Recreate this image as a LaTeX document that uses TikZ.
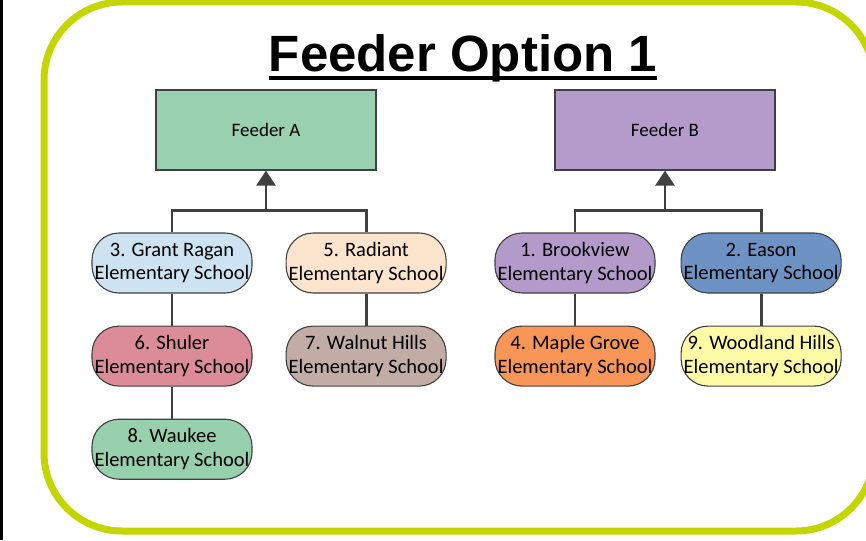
\documentclass[tikz,border=0pt]{standalone}
\usepackage{fontspec}
\setmainfont{Carlito}
\newfontfamily\titlefont{Liberation Sans}
\usepackage{tikz}
\usetikzlibrary{positioning, arrows.meta}

\definecolor{framelime}{RGB}{196,214,0}
\definecolor{edgegray}{RGB}{64,64,64}
\definecolor{feedA}{RGB}{152,208,176}
\definecolor{feedB}{RGB}{181,155,203}
\definecolor{grant}{RGB}{205,227,241}
\definecolor{radiant}{RGB}{253,228,205}
\definecolor{shuler}{RGB}{219,140,152}
\definecolor{walnut}{RGB}{193,173,165}
\definecolor{waukee}{RGB}{150,208,172}
\definecolor{brook}{RGB}{180,154,203}
\definecolor{eason}{RGB}{108,147,196}
\definecolor{maple}{RGB}{247,150,86}
\definecolor{woodland}{RGB}{254,251,166}

\begin{document}
\begin{tikzpicture}[x=1pt, y=1pt, feeder/.style={rectangle, draw=edgegray, line width=1.2pt, minimum width=220pt, minimum height=80pt, font=\fontsize{19}{23}\selectfont}, school/.style={rectangle, draw=edgegray, line width=1.1pt, minimum width=160pt, minimum height=60pt, inner sep=2pt, rounded corners=27pt, align=center, font=\fontsize{20.5}{23.5}\selectfont}, link/.style={draw=edgegray, line width=2.8pt}, uplink/.style={link, -{Triangle[width=19pt, length=15pt]}}]

    \useasboundingbox (0,0) rectangle (866,-540);

    % Frame
    \draw[black, line width=3pt] (1.5,0) -- (1.5,-540);
    \draw[framelime, line width=7pt, rounded corners=78pt] (44,-2) rectangle (874,-531);

    % Nodes
    \node[anchor=base, inner sep=0pt] (title) at (463,-72) {\titlefont\bfseries\fontsize{51}{56}\selectfont Feeder Option 1};

    \node[feeder, fill=feedA] (feederA) at (266,-130)            {Feeder A};
    \node[feeder, fill=feedB] (feederB) at (665,-130)            {Feeder B};

    \node[school, fill=grant]    (grantragan)   at (172,-263)            {3. Grant Ragan\\Elementary School};
    \node[school, fill=radiant]  (radiant)      [right=33pt of grantragan] {5. Radiant\\Elementary School};
    \node[school, fill=shuler]   (shuler)       [below=32pt of grantragan] {6. Shuler\\Elementary School};
    \node[school, fill=walnut]   (walnuthills)  [below=32pt of radiant]    {7. Walnut Hills\\Elementary School};
    \node[school, fill=waukee]   (waukee)       [below=32pt of shuler]     {8. Waukee\\Elementary School};

    \node[school, fill=brook]    (brookview)    at (575,-263)            {1. Brookview\\Elementary School};
    \node[school, fill=eason]    (eason)        [right=25pt of brookview]  {2. Eason\\Elementary School};
    \node[school, fill=maple]    (maplegrove)   [below=32pt of brookview]  {4. Maple Grove\\Elementary School};
    \node[school, fill=woodland] (woodland)     [below=32pt of eason]      {9. Woodland Hills\\Elementary School};

    \coordinate[below=40pt of feederA.south] (joinA);
    \coordinate[below=40pt of feederB.south] (joinB);

    % Lines ---------------
    \draw[line width=3.6pt] ([yshift=-6pt]title.base west) -- ([yshift=-6pt]title.base east);

    \draw[link] (grantragan.north) |- (joinA) -| (radiant.north);
    \draw[uplink] (joinA) -- (feederA.south);
    \draw[link] (grantragan) -- (shuler);
    \draw[link] (shuler) -- (waukee);
    \draw[link] (radiant) -- (walnuthills);

    \draw[link] (brookview.north) |- (joinB) -| (eason.north);
    \draw[uplink] (joinB) -- (feederB.south);
    \draw[link] (brookview) -- (maplegrove);
    \draw[link] (eason) -- (woodland);

\end{tikzpicture}
\end{document}
